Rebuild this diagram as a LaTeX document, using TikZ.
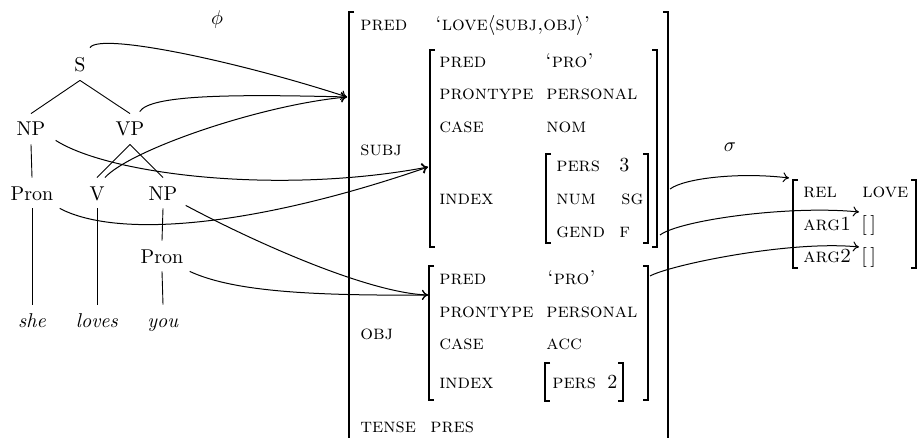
\documentclass[tikz,border=0pt]{standalone}
\usetikzlibrary{arrows.meta}
\newcommand{\avmL}[3]{\draw[brk] (#1+5,#2) -- (#1,#2) -- (#1,#3) -- (#1+5,#3);}
\newcommand{\avmR}[3]{\draw[brk] (#1-5,#2) -- (#1,#2) -- (#1,#3) -- (#1-5,#3);}
\begin{document}
\begin{tikzpicture}[x=0.5pt,y=-0.5pt,
  tn/.style={inner xsep=0pt,inner ysep=4pt,text height=7pt,text depth=0pt,anchor=base},
  av/.style={inner sep=0pt,anchor=base west},
  brk/.style={line width=1pt},
  edge/.style={line width=0.45pt},
  conn/.style={line width=0.5pt,-{To[length=3pt,width=5pt]}},
  src/.style={line width=0.5pt},
]
\useasboundingbox (0,0) rectangle (919,438);
% tree
\node[tn] (S) at (80,72) {S};
\node[tn] (NP) at (31,136) {NP};
\node[tn] (VP) at (130,136) {VP};
\node[tn] (Pron) at (32,200) {Pron};
\node[tn] (V) at (97,200) {V};
\node[tn] (NPo) at (163,200) {NP};
\node[tn] (Prono) at (162,263) {Pron};
\node[tn] (she) at (32,327) {\textit{she}};
\node[tn] (loves) at (97,327) {\textit{loves}};
\node[tn] (you) at (163,327) {\textit{you}};
\node (phi) at (217,20) {$\phi$};
\node (sigma) at (730,147) {$\sigma$};
\draw[edge] (S.south) -- (NP.north);
\draw[edge] (S.south) -- (VP.north);
\draw[edge] (NP.south) -- (Pron.north);
\draw[edge] (VP.south) -- (V.north);
\draw[edge] (VP.south) -- (NPo.north);
\draw[edge] (Pron.south) -- (she.north);
\draw[edge] (V.south) -- (loves.north);
\draw[edge] (NPo.south) -- (Prono.north);
\draw[edge] (Prono.south) -- (you.north);
% main f-structure
\avmL{349}{12}{445}
\avmR{668}{12}{445}
\node[av] (mpred) at (360,31) {\textsc{pred}};
\node[av] (mpredv) at (435,31) {\textsc{`love}$\langle$\textsc{subj,obj}$\rangle$\textsc{'}};
\node[av] (msubj) at (360,156) {\textsc{subj}};
\node[av] (mobj) at (360,339) {\textsc{obj}};
\node[av] (mtense) at (360,432) {\textsc{tense}};
\node[av] (mtensev) at (430,432) {\textsc{pres}};
% subj
\avmL{430}{50}{247}
\avmR{657}{50}{247}
\node[av] (spred) at (439,68) {\textsc{pred}};
\node[av] (spredv) at (545,68) {\textsc{`pro'}};
\node[av] (spt) at (439,100) {\textsc{prontype}};
\node[av] (sptv) at (546,100) {\textsc{personal}};
\node[av] (scase) at (439,133) {\textsc{case}};
\node[av] (scasev) at (546,133) {\textsc{nom}};
\node[av] (sindex) at (439,205) {\textsc{index}};
\avmL{546}{154}{243}
\avmR{648}{154}{243}
\node[av] (spers) at (556,172) {\textsc{pers}};
\node[av] (spersv) at (619,172) {3};
\node[av] (snum) at (556,205) {\textsc{num}};
\node[av] (snumv) at (621,205) {\textsc{sg}};
\node[av] (sgend) at (556,237) {\textsc{gend}};
\node[av] (sgendv) at (619,237) {\textsc{f}};
% obj
\avmL{429}{266}{400}
\avmR{648}{266}{400}
\node[av] (opred) at (439,284) {\textsc{pred}};
\node[av] (opredv) at (547,284) {\textsc{`pro'}};
\node[av] (opt) at (439,317) {\textsc{prontype}};
\node[av] (optv) at (546,317) {\textsc{personal}};
\node[av] (ocase) at (439,349) {\textsc{case}};
\node[av] (ocasev) at (546,349) {\textsc{acc}};
\node[av] (oindex) at (439,388) {\textsc{index}};
\avmL{545}{363}{401}
\avmR{623}{363}{401}
\node[av] (opers) at (552,388) {\textsc{pers}};
\node[av] (opersv) at (607,388) {2};
% sigma structure
\avmL{793}{180}{268}
\avmR{916}{180}{268}
\node[av] (rel) at (803,198) {\textsc{rel}};
\node[av] (relv) at (862,198) {\textsc{love}};
\node[av] (arga) at (803,230) {\textsc{arg1}};
\node[av] (argav) at (861,230) {[\,]};
\node[av] (argb) at (803,262) {\textsc{arg2}};
\node[av] (argbv) at (861,262) {[\,]};
% connector end points
\coordinate (fmain) at (347,97);
\coordinate (fsubj) at (428,167);
\coordinate (fobj) at (428,295);
\coordinate (smain) at (670,189);
\coordinate (ssubj) at (660,235);
\coordinate (sobj) at (650,276);
\coordinate (trel) at (789,178);
\coordinate (targa) at (859,212);
\coordinate (targb) at (859,247);
% phi connectors
\draw[conn] ([xshift=2pt,yshift=1pt]S.north east) .. controls (100,32) and (240,62) .. (fmain);
\draw[conn] ([xshift=-2.5pt,yshift=1pt]VP.north east) .. controls (150,95) and (230,94) .. (fmain);
\draw[conn] (V.north east) .. controls (130,150) and (260,105) .. (fmain);
\draw[conn] ([xshift=5pt,yshift=2pt]NP.south east) .. controls (110,175) and (280,195) .. (fsubj);
\draw[conn] ([xshift=3pt]Pron.south east) .. controls (120,240) and (260,225) .. (fsubj);
\draw[conn] ([xshift=4pt,yshift=1.5pt]NPo.south east) .. controls (260,245) and (370,293) .. (fobj);
\draw[conn] ([xshift=3pt]Prono.south east) .. controls (230,290) and (300,296) .. (fobj);
% sigma connectors
\draw[conn] (smain) .. controls (685,178) and (740,172) .. (trel);
\draw[conn] (ssubj) .. controls (680,220) and (790,205) .. (targa);
\draw[conn] (sobj) .. controls (670,265) and (790,240) .. (targb);
\end{tikzpicture}
\end{document}
